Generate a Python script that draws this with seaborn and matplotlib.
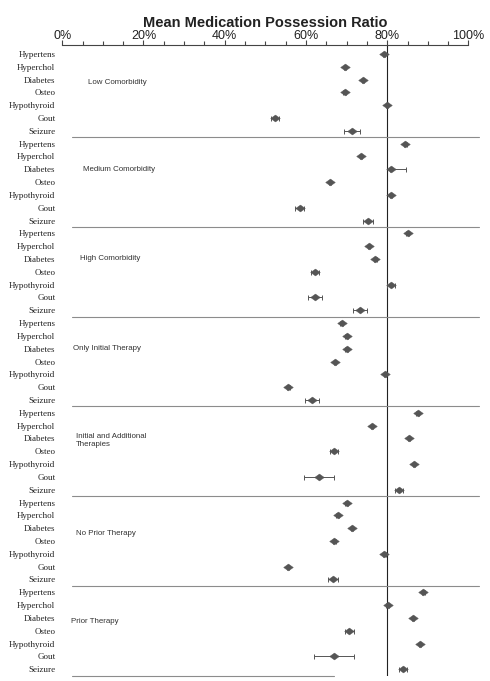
import numpy as np
import pandas as pd
import matplotlib
matplotlib.use("Agg")
import matplotlib.pyplot as plt
from matplotlib.path import Path
import seaborn as sns

# Data -----------------------------------------------------------------------
conditions = ["Hypertens", "Hyperchol", "Diabetes", "Osteo", "Hypothyroid", "Gout", "Seizure"]
groups = ["Low Comorbidity", "Medium Comorbidity", "High Comorbidity",
          "Only Initial Therapy", "Initial and Additional\nTherapies",
          "No Prior Therapy", "Prior Therapy"]

# mean MPR (%) per condition, one list per group
low_mpr = [79.2, 69.6, 74.1, 69.5, 80.0, 52.3, 71.4]
med_mpr = [84.5, 73.5, 81.0, 65.9, 81.0, 58.5, 75.3]
high_mpr = [85.0, 75.5, 77.1, 62.2, 81.0, 62.2, 73.3]
only_init_mpr = [68.8, 70.0, 70.0, 67.2, 79.5, 55.7, 61.5]
init_add_mpr = [87.5, 76.2, 85.3, 66.9, 86.6, 63.2, 82.9]
no_prior_mpr = [70.0, 67.8, 71.4, 67.0, 79.3, 55.6, 66.6]
prior_mpr = [88.9, 80.1, 86.3, 70.7, 88.1, 66.9, 83.8]

# error bar half-widths (lower, upper)
low_lo = [0.3, 0.3, 0.3, 0.3, 0.3, 1.0, 2.0]
low_hi = [0.3, 0.3, 0.3, 0.3, 0.3, 1.0, 2.0]
med_lo = [0.3, 0.3, 0.3, 0.3, 0.3, 1.1, 1.2]
med_hi = [0.3, 0.3, 3.7, 0.3, 0.3, 1.1, 1.2]
high_lo = [0.3, 0.3, 0.3, 1.0, 1.0, 1.8, 1.7]
high_hi = [0.3, 0.3, 0.3, 1.0, 1.0, 1.8, 1.7]
only_init_lo = [0.3, 0.3, 0.3, 0.3, 0.3, 0.3, 1.7]
only_init_hi = [0.3, 0.3, 0.3, 0.3, 0.3, 0.3, 1.7]
init_add_lo = [0.3, 0.3, 0.3, 1.1, 0.3, 3.6, 1.1]
init_add_hi = [0.3, 0.3, 0.3, 1.1, 0.3, 3.6, 1.1]
no_prior_lo = [0.3, 0.3, 0.3, 0.3, 0.3, 0.3, 1.2]
no_prior_hi = [0.3, 0.3, 0.3, 0.3, 0.3, 0.3, 1.2]
prior_lo = [0.3, 0.3, 0.3, 1.1, 0.3, 5.0, 1.0]
prior_hi = [0.3, 0.3, 0.3, 1.1, 0.3, 5.0, 1.0]

reference_mpr = 80

all_mpr = [low_mpr, med_mpr, high_mpr, only_init_mpr, init_add_mpr, no_prior_mpr, prior_mpr]
all_lo = [low_lo, med_lo, high_lo, only_init_lo, init_add_lo, no_prior_lo, prior_lo]
all_hi = [low_hi, med_hi, high_hi, only_init_hi, init_add_hi, no_prior_hi, prior_hi]

rows = []
for g, (vals, lo, hi) in enumerate(zip(all_mpr, all_lo, all_hi)):
    for c, cond in enumerate(conditions):
        rows.append(dict(group=groups[g], condition=cond, row=g * len(conditions) + c,
                         mpr=vals[c], lo=lo[c], hi=hi[c]))
df = pd.DataFrame(rows)

# Plot -----------------------------------------------------------------------
sns.set_style("white")
fig = plt.figure(figsize=(4.9, 6.81), dpi=100)
ax = fig.add_axes([0.127, 0.008, 0.829, 0.926])

mark_color = "#555555"
# slightly flattened diamond, like the original
diamond = Path([(-1, 0), (0, 0.72), (1, 0), (0, -0.72), (-1, 0)],
               [Path.MOVETO, Path.LINETO, Path.LINETO, Path.LINETO, Path.CLOSEPOLY])

ax.errorbar(df["mpr"], df["row"], xerr=[df["lo"], df["hi"]], fmt="none",
            ecolor=mark_color, elinewidth=0.7, capsize=1.8, capthick=0.7, zorder=2)
sns.scatterplot(data=df, x="mpr", y="row", marker=diamond, s=48, color=mark_color,
                edgecolor=mark_color, linewidth=0.3, ax=ax, zorder=3, legend=False)

ax.set_xlim(0, 100)
n_rows = len(df)
ax.set_ylim(n_rows - 0.5, -0.7)

# 80% reference line
ax.axvline(reference_mpr, color="#222222", lw=0.8, zorder=1)

# group separators
for g in range(1, len(groups)):
    y = g * len(conditions) - 0.5
    ax.plot([2.4, 102.5], [y, y], color="#8c8c8c", lw=0.8, clip_on=False, zorder=1)
ax.plot([2.4, 67.0], [n_rows - 0.5, n_rows - 0.5], color="#8c8c8c", lw=0.8,
        clip_on=False, zorder=1)

# group labels
label_x = [6.3, 5.1, 4.4, 2.6, 3.4, 3.4, 2.1]
label_dy = [2.25, 2.0, 2.0, 2.0, 2.2, 2.45, 2.25]
for g, name in enumerate(groups):
    ax.text(label_x[g], g * len(conditions) + label_dy[g], name, fontsize=5.7,
            family="Liberation Sans", color="#333333", va="center", ha="left",
            linespacing=1.2)

# axes
ax.xaxis.tick_top()
ax.xaxis.set_label_position("top")
ax.set_xticks(np.arange(0, 101, 20))
ax.set_xticks(np.arange(0, 101, 5), minor=True)
ax.set_xticklabels([f"{v}%" for v in range(0, 101, 20)], fontsize=9,
                   family="Liberation Sans", color="#222222")
ax.tick_params(axis="x", which="major", top=True, bottom=False, length=3.6,
               width=0.8, color="#444444", pad=-1.5)
ax.tick_params(axis="x", which="minor", top=True, bottom=False, length=3,
               width=0.8, color="#444444")
ax.set_xlabel("Mean Medication Possession Ratio", fontsize=10.5, fontweight="bold",
              family="Liberation Sans", color="#222222", labelpad=2.2)

ax.set_yticks(df["row"])
ax.set_yticklabels(df["condition"], fontsize=6.5, family="Liberation Serif",
                   color="#222222")
ax.tick_params(axis="y", length=0, pad=5)
ax.set_ylabel("")

for side in ["left", "right", "bottom"]:
    ax.spines[side].set_visible(False)
ax.spines["top"].set_color("#444444")
ax.spines["top"].set_linewidth(0.8)

fig.savefig("out.png", dpi=100)
